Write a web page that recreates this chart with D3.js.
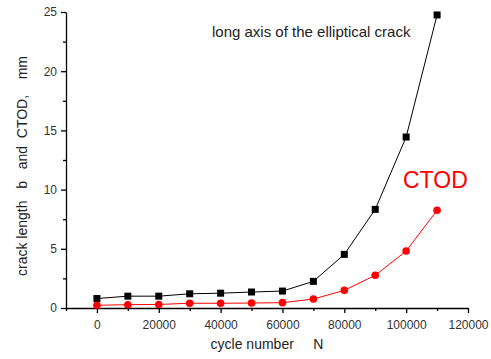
<!DOCTYPE html>
<html><head><meta charset="utf-8">
<script src="https://cdn.jsdelivr.net/npm/d3@7"></script>
<style>body{margin:0;background:#fff}svg{display:block}text{font-family:"Liberation Sans",Arial,sans-serif}</style>
</head><body>
<svg id="c" width="491" height="359"></svg>
<script>
const cycles = [0,10000,20000,30000,40000,50000,60000,70000,80000,90000,100000,110000];
const crackLength = [0.8,1.0,1.0,1.2,1.25,1.35,1.43,2.25,4.53,8.33,14.44,24.75];
const ctod = [0.23,0.28,0.3,0.4,0.4,0.42,0.45,0.76,1.49,2.76,4.81,8.25];
const xTicks = [0,20000,40000,60000,80000,100000,120000];
const yTicks = [0,5,10,15,20,25];

const svg = d3.select("#c");
const x = d3.scaleLinear().domain([-10000,120000]).range([66,468]);
const y = d3.scaleLinear().domain([0,25]).range([308,12]);

// minor ticks
const xMinor = d3.range(-10000,120001,10000).filter(v=>v%20000!==0);
const yMinor = d3.range(2.5,25,5);
svg.append("g").attr("transform","translate(0,308)")
  .call(d3.axisBottom(x).tickValues(xMinor).tickSize(3).tickFormat("").tickSizeOuter(0))
  .call(g=>g.select(".domain").remove());
svg.append("g").attr("transform","translate(66,0)")
  .call(d3.axisLeft(y).tickValues(yMinor).tickSize(3).tickFormat("").tickSizeOuter(0))
  .call(g=>g.select(".domain").remove());

const gx = svg.append("g").attr("transform","translate(0,308)")
  .call(d3.axisBottom(x).tickValues(xTicks).tickSize(5).tickSizeOuter(0).tickFormat(d3.format("d")));
gx.selectAll("text").attr("font-size",12).attr("fill","#333").attr("font-family","Liberation Sans, Arial, sans-serif").attr("dy","1.05em");
const gy = svg.append("g").attr("transform","translate(66,0)")
  .call(d3.axisLeft(y).tickValues(yTicks).tickSize(5).tickSizeOuter(0));
gy.selectAll("text").attr("font-size",12).attr("fill","#333").attr("font-family","Liberation Sans, Arial, sans-serif").attr("x",-9);
svg.selectAll(".domain, .tick line").attr("stroke","#000").attr("stroke-width",1.3);

const line = d3.line().x((d,i)=>x(cycles[i])).y(d=>y(d));
svg.append("path").datum(crackLength).attr("d",line).attr("fill","none").attr("stroke","#000").attr("stroke-width",1);
svg.append("path").datum(ctod).attr("d",line).attr("fill","none").attr("stroke","#f00").attr("stroke-width",1);

svg.selectAll("rect.m").data(crackLength).enter().append("rect")
  .attr("x",(d,i)=>x(cycles[i])-3.5).attr("y",d=>y(d)-3.5).attr("width",7).attr("height",7).attr("fill","#000");
svg.selectAll("circle.m").data(ctod).enter().append("circle")
  .attr("cx",(d,i)=>x(cycles[i])).attr("cy",d=>y(d)).attr("r",3.8).attr("fill","#f00");

svg.append("text").attr("x",212).attr("y",37).attr("font-size",15).attr("fill","#222").text("long axis of the elliptical crack");
svg.append("text").attr("x",403).attr("y",188).attr("font-size",23).attr("fill","#f00").text("CTOD");
svg.append("text").attr("x",267).attr("y",349).attr("font-size",14).attr("fill","#222").attr("text-anchor","middle")
  .style("white-space","pre").text("cycle number     N");
svg.append("text").attr("transform","translate(27,166) rotate(-90)").attr("font-size",14).attr("fill","#222").attr("text-anchor","middle")
  .style("white-space","pre").text("crack length   b   and  CTOD,    mm");
</script>
</body></html>
